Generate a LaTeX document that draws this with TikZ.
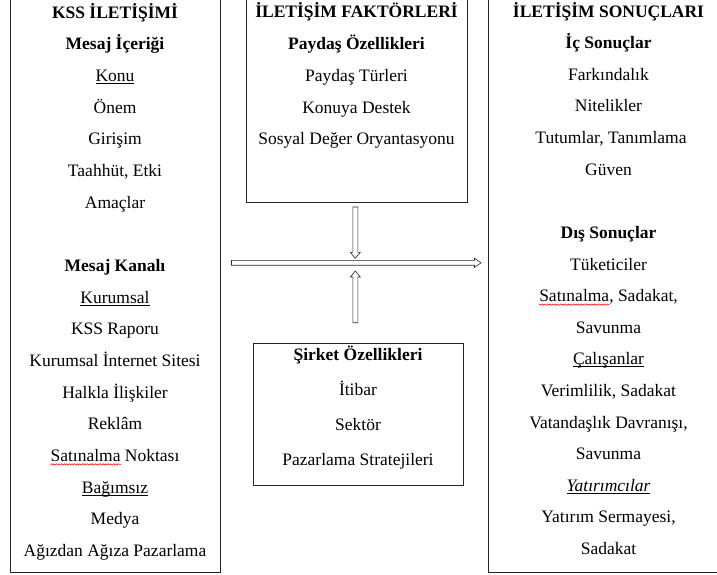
\documentclass[tikz,border=0pt]{standalone}
\usepackage{fontspec}
\setmainfont{Liberation Serif}
\usetikzlibrary{calc,decorations.pathmorphing}
\newcommand\myul[1]{\setbox0\hbox{#1}\rlap{\rule[-2.2pt]{\wd0}{0.8pt}}\box0}
\begin{document}
\begin{tikzpicture}[x=1pt,y=-1pt,
  txt/.style={anchor=base, inner sep=0pt, font=\fontsize{17.5}{21}\selectfont},
  hd/.style={txt, font=\fontsize{17.5}{21}\selectfont\bfseries},
  box/.style={draw=black!85, line width=0.8pt, inner sep=0pt},
  arr/.style={draw=black!85, line width=0.6pt, fill=white, line join=miter},
  spell/.style={draw=red, line width=0.5pt, decorate, decoration={snake, amplitude=0.7pt, segment length=2.6pt}}]
\useasboundingbox (0,0) rectangle (717,575);
\clip (0,0) rectangle (717,575);
% boxes
\node[box, minimum width=209.5pt, minimum height=577.5pt] (L) at (115.25,283.75) {};
\node[box, minimum width=221.5pt, minimum height=207pt] (MT) at (356.75,98.5) {};
\node[box, minimum width=210pt, minimum height=142pt] (MB) at (358,414) {};
\node[box, minimum width=242pt, minimum height=577.5pt] (R) at (609,283.75) {};
% left texts
\node[hd] (l0) at (115,18.3) {KSS İLETİŞİMİ};
\node[hd] (l1) at (115,49.9) {Mesaj İçeriği};
\node[txt] (l2) at (115,81.6) {\myul{Konu}};
\node[txt] (l3) at (115,113.2) {Önem};
\node[txt] (l4) at (115,144.9) {Girişim};
\node[txt] (l5) at (115,176.5) {Taahhüt, Etki};
\node[txt] (l6) at (115,208.2) {Amaçlar};
\node[hd] (l8) at (115,271.5) {Mesaj Kanalı};
\node[txt] (l9) at (115,303.2) {\myul{Kurumsal}};
\node[txt] (l10) at (115,334.8) {KSS Raporu};
\node[txt] (l11) at (115,366.5) {Kurumsal İnternet Sitesi};
\node[txt] (l12) at (115,398.1) {Halkla İlişkiler};
\node[txt] (l13) at (115,429.8) {Reklâm};
\node[txt] (l14) at (115,461.4) {Satınalma Noktası};
\node[txt, anchor=base west] (l14w) at (l14.base west) {\phantom{Satınalma}};
\draw[spell] ($(l14w.base west)+(0,3)$) -- ($(l14w.base east)+(0,3)$);
\node[txt] (l15) at (115,493.1) {\myul{Bağımsız}};
\node[txt] (l16) at (115,524.7) {Medya};
\node[txt] (l17) at (115,556.4) {Ağızdan Ağıza Pazarlama};
% middle top texts
\node[hd] (m0) at (356.5,17.5) {İLETİŞİM FAKTÖRLERİ};
\node[hd] (m1) at (356.5,50) {Paydaş Özellikleri};
\node[txt] (m2) at (356.5,81.7) {Paydaş Türleri};
\node[txt] (m3) at (356.5,113.3) {Konuya Destek};
\node[txt] (m4) at (356.5,145) {Sosyal Değer Oryantasyonu};
% middle bottom texts
\node[hd] (b0) at (358,360) {Şirket Özellikleri};
\node[txt] (b1) at (358,395) {İtibar};
\node[txt] (b2) at (358,430) {Sektör};
\node[txt] (b3) at (358,465) {Pazarlama Stratejileri};
% right texts
\node[hd] (r0) at (608.5,17.3) {İLETİŞİM SONUÇLARI};
\node[hd] (r1) at (608.5,48.6) {İç Sonuçlar};
\node[txt] (r2) at (608.5,80.2) {Farkındalık};
\node[txt] (r3) at (608.5,111.8) {Nitelikler};
\node[txt] (r4) at (611,143.4) {Tutumlar, Tanımlama};
\node[txt] (r5) at (608.5,175) {Güven};
\node[hd] (r7) at (608.5,238.3) {Dış Sonuçlar};
\node[txt] (r8) at (608.5,270) {Tüketiciler};
\node[txt] (r9) at (608.5,301.6) {Satınalma, Sadakat,};
\node[txt, anchor=base west] (r9w) at (r9.base west) {\phantom{Satınalma}};
\draw[spell] ($(r9w.base west)+(0,3)$) -- ($(r9w.base east)+(0,3)$);
\node[txt] (r10) at (608.5,333.2) {Savunma};
\node[txt] (r11) at (608.5,364.8) {\myul{Çalışanlar}};
\node[txt] (r12) at (608.5,396.4) {Verimlilik, Sadakat};
\node[txt] (r13) at (608.5,428) {Vatandaşlık Davranışı,};
\node[txt] (r14) at (608.5,459.6) {Savunma};
\node[txt] (r15) at (608.5,491.2) {\myul{\itshape Yatırımcılar}};
\node[txt] (r16) at (608.5,522.8) {Yatırım Sermayesi,};
\node[txt] (r17) at (608.5,554.4) {Sadakat};
% arrows
\coordinate (hs) at (231.5,262.8);
\coordinate (ht) at (481,262.8);
\coordinate (ds) at (355.3,207);
\coordinate (dt) at (355.3,258.3);
\coordinate (us) at (355.3,322.7);
\coordinate (ut) at (355.3,271);
\draw[arr] ($(hs)+(0,-2.4)$) -- ($(ht)+(-6.5,-2.4)$) -- ($(ht)+(-6.5,-4.6)$) -- (ht)
  -- ($(ht)+(-6.5,4.6)$) -- ($(ht)+(-6.5,2.4)$) -- ($(hs)+(0,2.4)$) -- cycle;
\draw[arr] ($(ds)+(-2.5,0)$) -- ($(dt)+(-2.5,-6)$) -- ($(dt)+(-5,-6)$) -- (dt)
  -- ($(dt)+(5,-6)$) -- ($(dt)+(2.5,-6)$) -- ($(ds)+(2.5,0)$) -- cycle;
\draw[arr] ($(us)+(-2.5,0)$) -- ($(ut)+(-2.5,6)$) -- ($(ut)+(-5,6)$) -- (ut)
  -- ($(ut)+(5,6)$) -- ($(ut)+(2.5,6)$) -- ($(us)+(2.5,0)$) -- cycle;
\end{tikzpicture}
\end{document}
